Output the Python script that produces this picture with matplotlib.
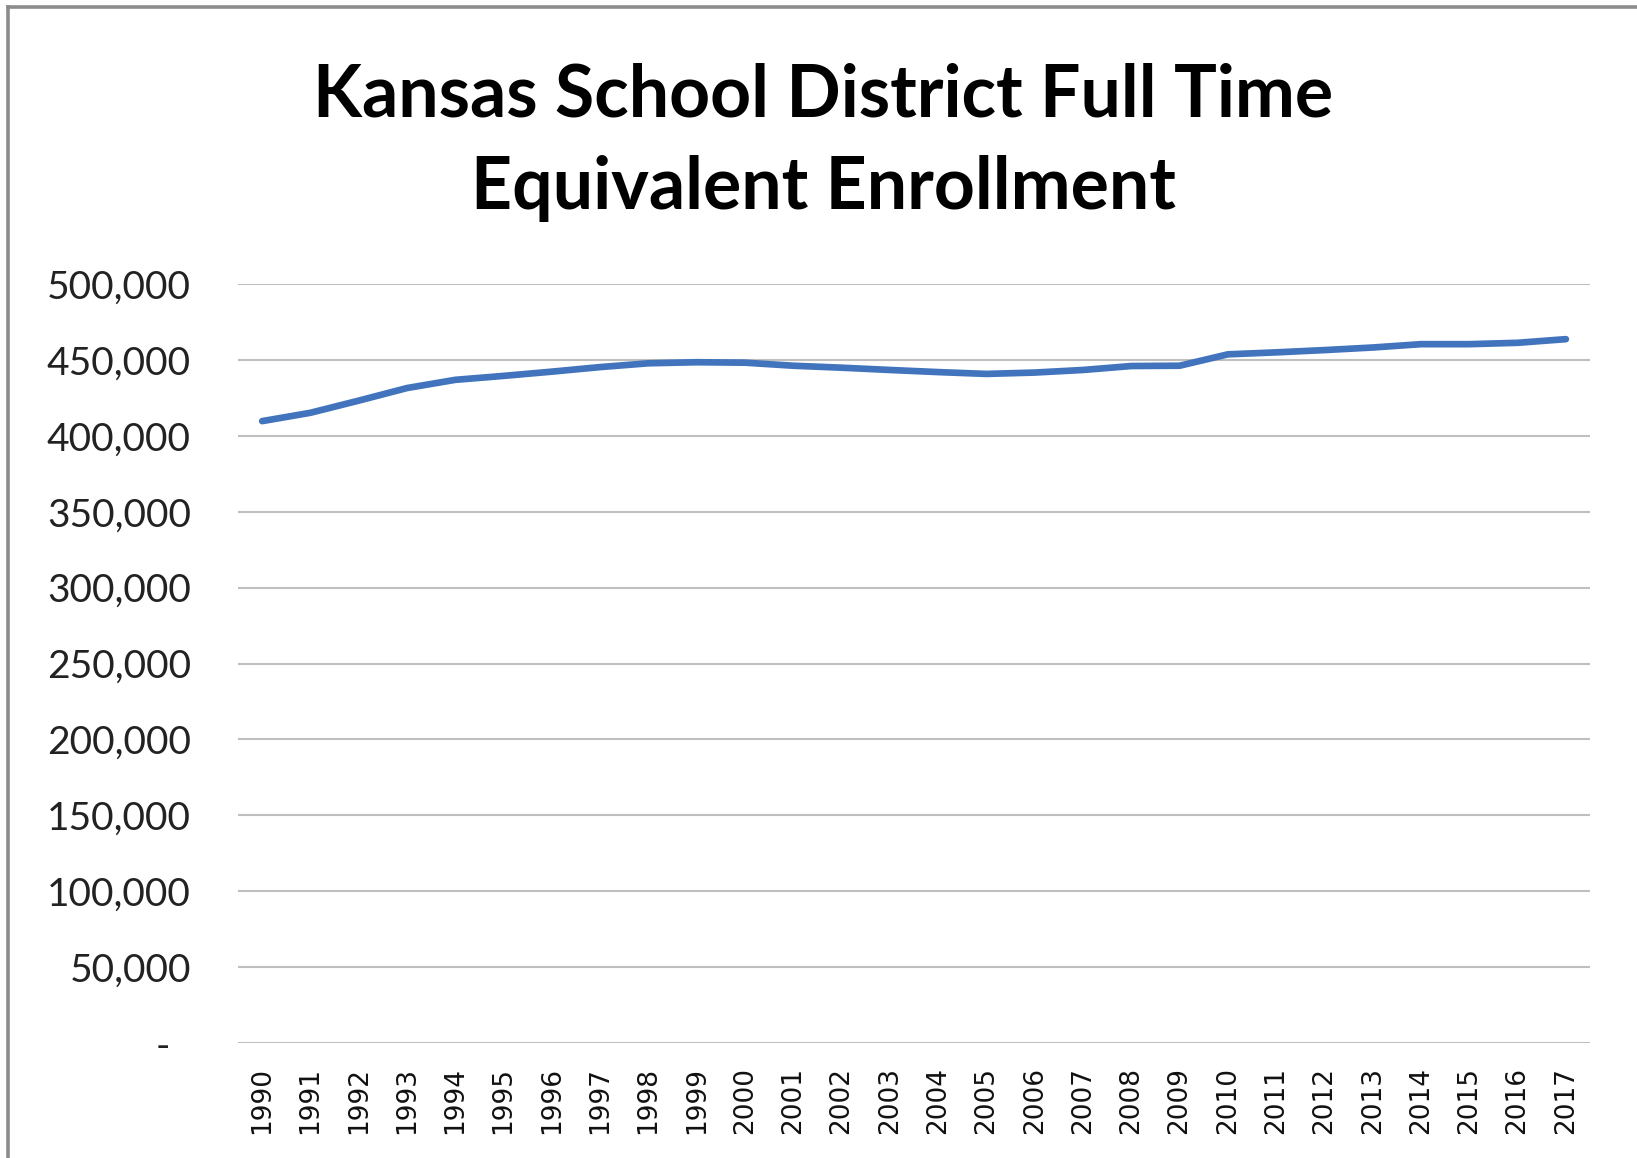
import matplotlib
matplotlib.use("Agg")
import matplotlib.pyplot as plt
from matplotlib.lines import Line2D
from matplotlib.ticker import FuncFormatter

# -----------------------
# Data
# -----------------------
years = [str(y) for y in range(1990, 2018)]
fte = [
    409.7, 415.2, 423.2, 431.5, 436.9, 439.5, 442.3, 445.3,
    447.8, 448.5, 448.2, 446.2, 444.9, 443.4, 442.0, 440.8,
    441.7, 443.4, 446.0, 446.2, 453.7, 455.0, 456.5, 458.2,
    460.4, 460.4, 461.3, 463.7,
]
fte = [v * 1000 for v in fte]
y_ticks = list(range(0, 500001, 50000))

TITLE = "Kansas School District Full Time\nEquivalent Enrollment"
LINE_COLOR = "#4174BD"
GRID_COLOR = "#BFBFBF"

# -----------------------
# Figure
# -----------------------
fig = plt.figure(figsize=(16.37, 11.58), dpi=100)
ax = fig.add_axes([0.1454, 0.0993, 0.9713 - 0.1454, 0.7547 - 0.0993])

x = list(range(len(years)))
ax.plot(x, fte, color=LINE_COLOR, linewidth=4.8, solid_capstyle="round",
        solid_joinstyle="round", zorder=3)

ax.set_xlim(-0.5, len(years) - 0.5)
ax.set_ylim(0, 500000)
ax.set_yticks(y_ticks)
ax.yaxis.set_major_formatter(FuncFormatter(lambda v, p: "-  " if v == 0 else f"{int(v):,}"))
ax.set_xticks(x)
ax.set_xticklabels(years, rotation=90, fontfamily="DejaVu Sans", fontsize=19,
                   va="top", ha="center")

ax.grid(axis="y", color=GRID_COLOR, linewidth=1.5)
ax.set_axisbelow(True)
for s in ax.spines.values():
    s.set_visible(False)
ax.tick_params(axis="y", length=0, pad=34, labelsize=28, labelcolor="#222222")
ax.tick_params(axis="x", length=0, pad=17, labelcolor="#111111")
for lbl in ax.get_yticklabels():
    lbl.set_fontfamily("Lato")

fig.text(0.503, 0.877, TITLE, ha="center", va="center", fontsize=51.5,
         fontfamily="Lato", fontweight="bold", linespacing=1.47)

# chart frame (only left and top edges are visible in the screenshot)
fig.add_artist(Line2D([8 / 1637, 8 / 1637], [0, 1 - 7 / 1158], color="#8C8C8C",
                      linewidth=2.6, transform=fig.transFigure))
fig.add_artist(Line2D([8 / 1637, 1], [1 - 7 / 1158, 1 - 7 / 1158], color="#8C8C8C",
                      linewidth=2.6, transform=fig.transFigure))

fig.savefig("out.png", dpi=100, facecolor="white")
